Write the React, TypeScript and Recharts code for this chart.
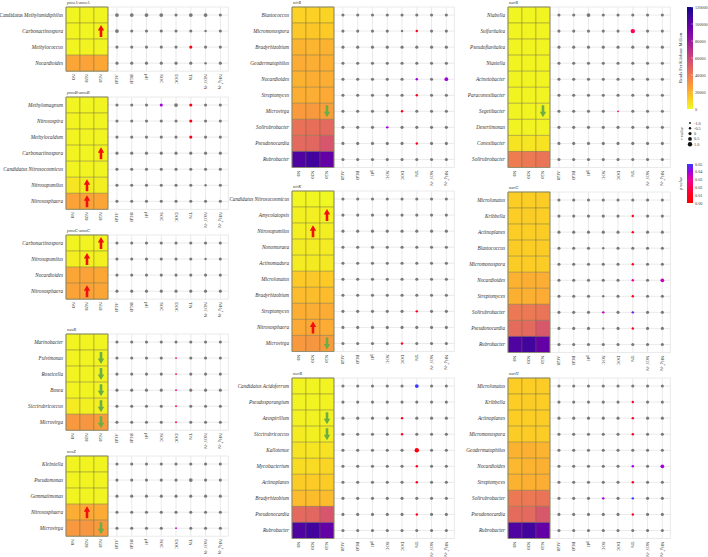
import React from "react";
import { CartesianGrid, ReferenceArea, Scatter, ScatterChart, XAxis, YAxis } from "recharts";

const FONT = "'Liberation Serif', 'Times New Roman', serif";

const treatments = ["N0", "N20", "N50"];
const soilVars = ["AGB", "BGB", "pH", "SOC", "DOC", "TN", "NO3-N", "NH4-N"];

const rpkmTicks = [0, 20000, 40000, 60000, 80000, 100000, 120000];
const rLegend = [-1.0, -0.5, 0, 0.5, 1.0];
const pTicks = [0.0, 0.01, 0.02, 0.03, 0.04, 0.05];

// rows: genus, heat = RPKM per N0/N20/N50, r = r-value level per soil variable (1..5 -> -1..1)
// sig = [row, variable, p] for coloured dots, arrows = [row, treatment, dir]
const pmoAGenera = ["Candidatus Methylumidiphilus", "Carbonactinospora", "Methylococcus", "Nocardioides"];
const pmoAHeat = [[1200, 1300, 1400], [1300, 1200, 1500], [1500, 1400, 1600], [24500, 25000, 24000]];
const pmoAR = ["44443443", "43333323", "33333333", "33333323"];
const pmoASig = [[2, 5, 0.005]];
const pmoAArrows = [[1, 2, "up"]];

const pmoBGenera = ["Methylomagnum", "Nitrosospira", "Methylocaldum", "Carbonactinospora", "Candidatus Nitrosocosmicus", "Nitrosopumilus", "Nitrososphaera"];
const pmoBHeat = [[1200, 1200, 1300], [1300, 1300, 1400], [1300, 1400, 1300], [1300, 1200, 1400], [1400, 1500, 1400], [5500, 3500, 3000], [25000, 25500, 24500]];
const pmoBR = ["33334333", "33333333", "33333333", "33333333", "33333333", "33333323", "33333333"];
const pmoBSig = [[0, 3, 0.04], [0, 5, 0.005], [1, 5, 0.005], [2, 5, 0.008]];
const pmoBArrows = [[3, 2, "up"], [5, 1, "up"], [6, 1, "up"]];

const pmoCGenera = ["Carbonactinospora", "Nitrosopumilus", "Nocardioides", "Nitrososphaera"];
const pmoCHeat = [[1300, 1300, 1400], [3000, 2800, 2500], [24500, 25000, 24000], [25000, 25500, 24500]];
const pmoCR = ["33333333", "33333323", "33333333", "33333333"];
const pmoCSig: number[][] = [];
const pmoCArrows = [[0, 2, "up"], [1, 1, "up"], [3, 1, "up"]];

const nasBGenera = ["Marinobacter", "Fulvimonas", "Roseicella", "Bosea", "Siccirubricoccus", "Microvirga"];
const nasBHeat = [[1300, 1300, 1400], [1400, 1300, 1500], [1500, 1400, 1600], [1500, 1500, 1700], [4000, 2500, 2800], [29000, 29500, 28000]];
const nasBR = ["33333333", "33331333", "33331333", "33331333", "33331333", "33331333"];
const nasBSig = [[1, 4, 0.025], [2, 4, 0.015], [3, 4, 0.025], [4, 4, 0.015], [5, 4, 0.015]];
const nasBArrows = [[1, 2, "down"], [2, 2, "down"], [3, 2, "down"], [4, 2, "down"], [5, 2, "down"]];

const nosZGenera = ["Klebsiella", "Pseudomonas", "Gemmatimonas", "Nitrososphaera", "Microvirga"];
const nosZHeat = [[1300, 1300, 1400], [1400, 1400, 1500], [1500, 1500, 1600], [22000, 23000, 22500], [29000, 29500, 28000]];
const nosZR = ["33333333", "33333433", "33333333", "33333333", "33331333"];
const nosZSig = [[4, 4, 0.035]];
const nosZArrows = [[3, 1, "up"], [4, 2, "down"]];

const nirBGenera = ["Blastococcus", "Micromonospora", "Bradyrhizobium", "Geodermatophilus", "Nocardioides", "Streptomyces", "Microvirga", "Solirubrobacter", "Pseudonocardia", "Rubrobacter"];
const nirBHeat = [[11000, 11500, 10500], [14000, 14500, 13500], [20000, 19500, 20500], [22500, 22000, 21500], [20500, 21500, 22000], [21500, 22000, 23000], [28000, 28500, 27000], [43000, 44000, 46000], [46000, 47000, 54000], [104000, 108000, 98000]];
const nirBR = ["33333333", "33332233", "33333333", "33333333", "33333234", "33333233", "33332333", "33323333", "33333233", "33333333"];
const nirBSig = [[1, 5, 0.008], [4, 5, 0.04], [4, 7, 0.04], [5, 5, 0.008], [6, 4, 0.008], [7, 3, 0.04], [8, 5, 0.008]];
const nirBArrows = [[6, 2, "down"]];

const nirKGenera = ["Candidatus Nitrosocosmicus", "Amycolatopsis", "Nitrosopumilus", "Nonomuraea", "Actinomadura", "Microlunatus", "Bradyrhizobium", "Streptomyces", "Nitrososphaera", "Microvirga"];
const nirKHeat = [[1000, 1100, 400], [2500, 2800, 2200], [2800, 2800, 3000], [3500, 3500, 4000], [4000, 4200, 4500], [13500, 14000, 13500], [17500, 17000, 17500], [21500, 22000, 22500], [23000, 24000, 22500], [29000, 29500, 28000]];
const nirKR = ["33333333", "33333333", "33333333", "33333333", "33333333", "33333333", "33333333", "33333233", "33333333", "33332333"];
const nirKSig = [[7, 5, 0.008], [9, 4, 0.008]];
const nirKArrows = [[1, 2, "up"], [2, 1, "up"], [8, 1, "up"], [9, 2, "down"]];

const norBGenera = ["Candidatus Acidoferrum", "Pseudosporangium", "Azospirillum", "Siccirubricoccus", "Kallotenue", "Mycobacterium", "Actinoplanes", "Bradyrhizobium", "Pseudonocardia", "Rubrobacter"];
const norBHeat = [[1500, 1500, 1800], [1800, 1800, 2000], [2000, 2000, 2200], [4000, 2500, 3000], [6000, 5500, 6500], [8000, 8500, 10000], [12500, 13000, 12500], [17500, 17000, 17500], [46000, 47000, 54000], [104000, 108000, 98000]];
const norBR = ["33333433", "33333333", "33332333", "33332333", "33333533", "33333233", "33333233", "33333333", "33333233", "33333333"];
const norBSig = [[0, 5, 0.05], [2, 4, 0.01], [3, 4, 0.01], [4, 5, 0.004], [5, 5, 0.008], [6, 5, 0.008], [8, 5, 0.008]];
const norBArrows = [[2, 2, "down"], [3, 2, "down"]];

const narBGenera = ["Niabella", "Sulfuritalea", "Pseudoflavitalea", "Niastella", "Acinetobacter", "Paraconexibacter", "Segetibacter", "Desertimonas", "Conexibacter", "Solirubrobacter"];
const narBHeat = [[1200, 1200, 1300], [1300, 1300, 1400], [1300, 1400, 1300], [1400, 1300, 1400], [1400, 1500, 1500], [1500, 1500, 1600], [1600, 1500, 1700], [1700, 1800, 1800], [6000, 5500, 6500], [39000, 40000, 42000]];
const narBR = ["33433333", "33333533", "33333333", "33333333", "33333333", "33333333", "33331333", "33333333", "33333333", "33333333"];
const narBSig = [[1, 5, 0.02], [6, 4, 0.025]];
const narBArrows = [[6, 2, "down"]];

const narGGenera = ["Microlunatus", "Kribbella", "Actinoplanes", "Blastococcus", "Micromonospora", "Nocardioides", "Streptomyces", "Solirubrobacter", "Pseudonocardia", "Rubrobacter"];
const narGHeat = [[12000, 12000, 12500], [12000, 12500, 12000], [12000, 12000, 12500], [12500, 12000, 12500], [12500, 13000, 12500], [20500, 21500, 22000], [21000, 21000, 22500], [40000, 40500, 42000], [45000, 46000, 53000], [104000, 108000, 98000]];
const narGR = ["33333333", "33333233", "33333233", "33323333", "33333233", "33333234", "33323233", "33323233", "33323233", "33333333"];
const narGSig = [[1, 5, 0.008], [2, 5, 0.008], [4, 5, 0.008], [5, 5, 0.03], [5, 7, 0.035], [6, 5, 0.008], [7, 3, 0.035], [7, 5, 0.045], [8, 5, 0.008]];

const narHGenera = ["Microlunatus", "Kribbella", "Actinoplanes", "Micromonospora", "Geodermatophilus", "Nocardioides", "Streptomyces", "Solirubrobacter", "Pseudonocardia", "Rubrobacter"];
const narHHeat = [[12000, 12000, 12500], [12000, 12500, 12000], [12000, 12000, 12500], [12500, 13000, 12500], [20500, 21000, 20000], [18500, 20000, 21000], [20500, 21000, 22000], [40000, 40500, 42000], [45000, 46000, 53000], [104000, 108000, 98000]];
const narHR = ["33333333", "33333233", "33333233", "33333233", "33333333", "33333234", "33333233", "33323233", "33333233", "33333333"];
const narHSig = [[1, 5, 0.008], [2, 5, 0.008], [3, 5, 0.008], [5, 5, 0.04], [5, 7, 0.04], [6, 5, 0.008], [7, 3, 0.04], [7, 5, 0.05], [8, 5, 0.008]];

// layout
const CELL_W = 14;
const ROW_H = 16.05;
const X_AXIS_H = 30;
const DOT_X0 = 3.14;
const DOT_STEP = 1.055;
const X_MAX = 11.1;
const PLOT_W = (X_MAX + 0.5) * CELL_W;
const RPKM_MAX = 120000;

const panels = [
  { title: "pmoA-amoA", genera: pmoAGenera, heat: pmoAHeat, r: pmoAR, sig: pmoASig, arrows: pmoAArrows, heatLeft: 66, yW: 66, top: 7, candUpright: true },
  { title: "pmoB-amoB", genera: pmoBGenera, heat: pmoBHeat, r: pmoBR, sig: pmoBSig, arrows: pmoBArrows, heatLeft: 66, yW: 66, top: 97 },
  { title: "pmoC-amoC", genera: pmoCGenera, heat: pmoCHeat, r: pmoCR, sig: pmoCSig, arrows: pmoCArrows, heatLeft: 66, yW: 66, top: 235 },
  { title: "nasB", genera: nasBGenera, heat: nasBHeat, r: nasBR, sig: nasBSig, arrows: nasBArrows, heatLeft: 66, yW: 66, top: 334 },
  { title: "nosZ", genera: nosZGenera, heat: nosZHeat, r: nosZR, sig: nosZSig, arrows: nosZArrows, heatLeft: 66, yW: 66, top: 456 },
  { title: "nirB", genera: nirBGenera, heat: nirBHeat, r: nirBR, sig: nirBSig, arrows: nirBArrows, heatLeft: 292, yW: 62, top: 7 },
  { title: "nirK", genera: nirKGenera, heat: nirKHeat, r: nirKR, sig: nirKSig, arrows: nirKArrows, heatLeft: 292, yW: 62, top: 191 },
  { title: "norB", genera: norBGenera, heat: norBHeat, r: norBR, sig: norBSig, arrows: norBArrows, heatLeft: 292, yW: 62, top: 378 },
  { title: "narB", genera: narBGenera, heat: narBHeat, r: narBR, sig: narBSig, arrows: narBArrows, heatLeft: 508, yW: 43, top: 7 },
  { title: "narG", genera: narGGenera, heat: narGHeat, r: narGR, sig: narGSig, arrows: [], heatLeft: 508, yW: 43, top: 192 },
  { title: "narH", genera: narHGenera, heat: narHHeat, r: narHR, sig: narHSig, arrows: [], heatLeft: 508, yW: 43, top: 378 },
];

const plasma = ["#f0f921", "#fcce25", "#fca636", "#f2844b", "#e16462", "#cc4778", "#b12a90", "#8f0da4", "#6a00a8", "#41049d", "#0d0887"];
const pStops = ["#ff0000", "#ff0020", "#ff0050", "#f000a0", "#a000e0", "#3a3aff"];

function hexToRgb(h: string) {
  return [parseInt(h.slice(1, 3), 16), parseInt(h.slice(3, 5), 16), parseInt(h.slice(5, 7), 16)];
}

function ramp(stops: string[], t: number) {
  const c = Math.max(0, Math.min(1, t)) * (stops.length - 1);
  const i = Math.min(Math.floor(c), stops.length - 2);
  const f = c - i;
  const a = hexToRgb(stops[i]);
  const b = hexToRgb(stops[i + 1]);
  const m = a.map((v, k) => Math.round(v + (b[k] - v) * f));
  return `rgb(${m[0]},${m[1]},${m[2]})`;
}

const heatColor = (v: number) => ramp(plasma, v / RPKM_MAX);
const pColor = (p: number) => ramp(pStops, p / 0.05);
const rRadius = (r: number) => 1.55 + 0.65 * r;

const dotX = soilVars.map((_, i) => DOT_X0 + i * DOT_STEP);
const xTicks = [0, 1, 2, ...dotX];
const xLabels = [...treatments, ...soilVars];

function VarLabel({ label }: { label: string }) {
  if (label === "NO3-N")
    return (
      <>
        NO<tspan dy={1} fontSize={3.3}>3</tspan>
        <tspan dy={-2.5} fontSize={3.3}>−</tspan>
        <tspan dy={1.5}>-N</tspan>
      </>
    );
  if (label === "NH4-N")
    return (
      <>
        NH<tspan dy={1} fontSize={3.3}>4</tspan>
        <tspan dy={-2.5} fontSize={3.3}>+</tspan>
        <tspan dy={1.5}>-N</tspan>
      </>
    );
  return <>{label}</>;
}

function XTick(props: any) {
  const { x, y, payload } = props;
  let idx = 0;
  xTicks.forEach((t, i) => {
    if (Math.abs(t - payload.value) < Math.abs(xTicks[idx] - payload.value)) idx = i;
  });
  return (
    <text
      transform={`translate(${x},${y}) rotate(90)`}
      textAnchor="start"
      dominantBaseline="central"
      fontFamily={FONT}
      fontSize={4.7}
      fill="#333"
    >
      <VarLabel label={xLabels[idx]} />
    </text>
  );
}

function YTick(props: any) {
  const { x, y, payload, genera, candUpright } = props;
  const name: string = genera[Math.round(payload.value)] ?? "";
  const cand = name.startsWith("Candidatus ");
  return (
    <text x={x} y={y} textAnchor="end" dominantBaseline="central" fontFamily={FONT} fontSize={5.2} fill="#333">
      {cand && candUpright ? (
        <>
          <tspan>Candidatus </tspan>
          <tspan fontStyle="italic">{name.slice(11)}</tspan>
        </>
      ) : (
        <tspan fontStyle="italic">{name}</tspan>
      )}
    </text>
  );
}

function DotShape(props: any) {
  const { cx, cy, payload } = props;
  return <circle cx={cx} cy={cy} r={rRadius(payload.rv)} fill={payload.p == null ? "#7a7a7a" : pColor(payload.p)} />;
}

function ArrowShape(props: any) {
  const { cx, cy, payload } = props;
  const up = payload.dir === "up";
  const s = up ? 1 : -1;
  const color = up ? "#f01010" : "#6aae45";
  const d = `M${cx - 1.3},${cy + 6 * s} L${cx - 1.3},${cy - 0.5 * s} L${cx - 3.2},${cy - 0.5 * s} L${cx},${cy - 6 * s} L${cx + 3.2},${cy - 0.5 * s} L${cx + 1.3},${cy - 0.5 * s} L${cx + 1.3},${cy + 6 * s} Z`;
  return <path d={d} fill={color} />;
}

function Panel({ cfg }: { cfg: (typeof panels)[number] }) {
  const n = cfg.genera.length;
  const dots = cfg.r.flatMap((row, ri) =>
    row.split("").map((lv, ci) => {
      const s = cfg.sig.find((q) => q[0] === ri && q[1] === ci);
      return { x: dotX[ci], y: ri, rv: (Number(lv) - 3) * 0.5, p: s ? (s[2] as number) : null };
    }),
  );
  const arrows = cfg.arrows.map((a) => ({ x: a[1] as number, y: a[0] as number, dir: a[2] }));
  const width = cfg.yW + PLOT_W;
  const height = n * ROW_H + X_AXIS_H;
  return (
    <>
      <div
        style={{
          position: "absolute",
          left: cfg.heatLeft + 1,
          top: cfg.top - 7,
          fontFamily: FONT,
          fontSize: 4.5,
          fontStyle: "italic",
          color: "#333",
          lineHeight: "6px",
          whiteSpace: "nowrap",
        }}
      >
        {cfg.title}
      </div>
      <div style={{ position: "absolute", left: cfg.heatLeft - cfg.yW, top: cfg.top }}>
        <ScatterChart width={width} height={height} margin={{ top: 0, right: 0, bottom: 0, left: 0 }}>
          <CartesianGrid stroke="#e4e4e4" strokeWidth={0.8} />
          <XAxis
            type="number"
            dataKey="x"
            domain={[-0.5, X_MAX]}
            ticks={xTicks}
            interval={0}
            height={X_AXIS_H}
            axisLine={false}
            tickLine={false}
            tickSize={3}
            tickMargin={0}
            tick={<XTick />}
            allowDataOverflow
          />
          <YAxis
            type="number"
            dataKey="y"
            domain={[-0.5, n - 0.5]}
            ticks={cfg.genera.map((_, i) => i)}
            interval={0}
            reversed
            width={cfg.yW}
            axisLine={false}
            tickLine={false}
            tickSize={3}
            tickMargin={0}
            tick={(p: any) => <YTick {...p} genera={cfg.genera} candUpright={!!cfg.candUpright} />}
            allowDataOverflow
          />
          {cfg.heat.flatMap((row, ri) =>
            row.map((v, ci) => (
              <ReferenceArea
                key={`h${ri}-${ci}`}
                x1={ci - 0.5}
                x2={ci + 0.5}
                y1={ri - 0.5}
                y2={ri + 0.5}
                fill={heatColor(v)}
                fillOpacity={1}
                stroke="#6e6a3a"
                strokeOpacity={0.6}
                strokeWidth={0.6}
              />
            )),
          )}
          <ReferenceArea x1={-0.5} x2={2.5} y1={-0.5} y2={n - 0.5} fill="none" stroke="#8f8f70" strokeWidth={0.9} />
          <Scatter data={dots} shape={<DotShape />} isAnimationActive={false} />
          <Scatter data={arrows} shape={<ArrowShape />} isAnimationActive={false} />
        </ScatterChart>
      </div>
    </>
  );
}

function Legends() {
  const barTop = 7;
  const barH = 102;
  const pTop = 164;
  const pH = 39;
  return (
    <svg width={48} height={215} style={{ position: "absolute", left: 660, top: 0 }} fontFamily={FONT}>
      <defs>
        <linearGradient id="rpkm" x1="0" y1="1" x2="0" y2="0">
          {plasma.map((c, i) => (
            <stop key={i} offset={i / (plasma.length - 1)} stopColor={c} />
          ))}
        </linearGradient>
        <linearGradient id="pval" x1="0" y1="1" x2="0" y2="0">
          {pStops.map((c, i) => (
            <stop key={i} offset={i / (pStops.length - 1)} stopColor={c} />
          ))}
        </linearGradient>
      </defs>
      <rect x={27} y={barTop} width={6} height={barH} fill="url(#rpkm)" />
      {rpkmTicks.map((t) => {
        const y = barTop + barH - (t / RPKM_MAX) * barH;
        return (
          <g key={t}>
            <line x1={31} x2={33} y1={y} y2={y} stroke="#fff" strokeWidth={0.4} />
            <text x={35} y={y} dominantBaseline="central" fontSize={4.2} fill="#333">
              {t}
            </text>
          </g>
        );
      })}
      <text transform={`translate(22,${barTop + barH / 2}) rotate(-90)`} textAnchor="middle" fontSize={4.5} fill="#333">
        Reads Per Kilobase Million
      </text>

      {rLegend.map((r, i) => {
        const y = 123 + i * 5.3;
        return (
          <g key={r}>
            <circle cx={30} cy={y} r={rRadius(r)} fill="#111" />
            <text x={34} y={y} dominantBaseline="central" fontSize={4.2} fill="#333">
              {r === 0 ? "0" : r.toFixed(1)}
            </text>
          </g>
        );
      })}
      <text transform="translate(23,133.6) rotate(-90)" textAnchor="middle" fontSize={4.5} fontStyle="italic" fill="#333">
        r value
      </text>

      <rect x={27} y={pTop} width={6} height={pH} fill="url(#pval)" />
      {pTicks.map((t) => {
        const y = pTop + pH - (t / 0.05) * pH;
        return (
          <text key={t} x={35} y={y} dominantBaseline="central" fontSize={4.2} fill="#333">
            {t.toFixed(2)}
          </text>
        );
      })}
      <text transform={`translate(22,${pTop + pH / 2}) rotate(-90)`} textAnchor="middle" fontSize={4.5} fontStyle="italic" fill="#333">
        p value
      </text>
    </svg>
  );
}

export default function App() {
  return (
    <div style={{ position: "absolute", left: 0, top: 0, width: 708, height: 557, overflow: "hidden", background: "#fff" }}>
      <style>{".recharts-surface { overflow: visible; }"}</style>
      {panels.map((p) => (
        <Panel key={p.title} cfg={p} />
      ))}
      <Legends />
    </div>
  );
}
